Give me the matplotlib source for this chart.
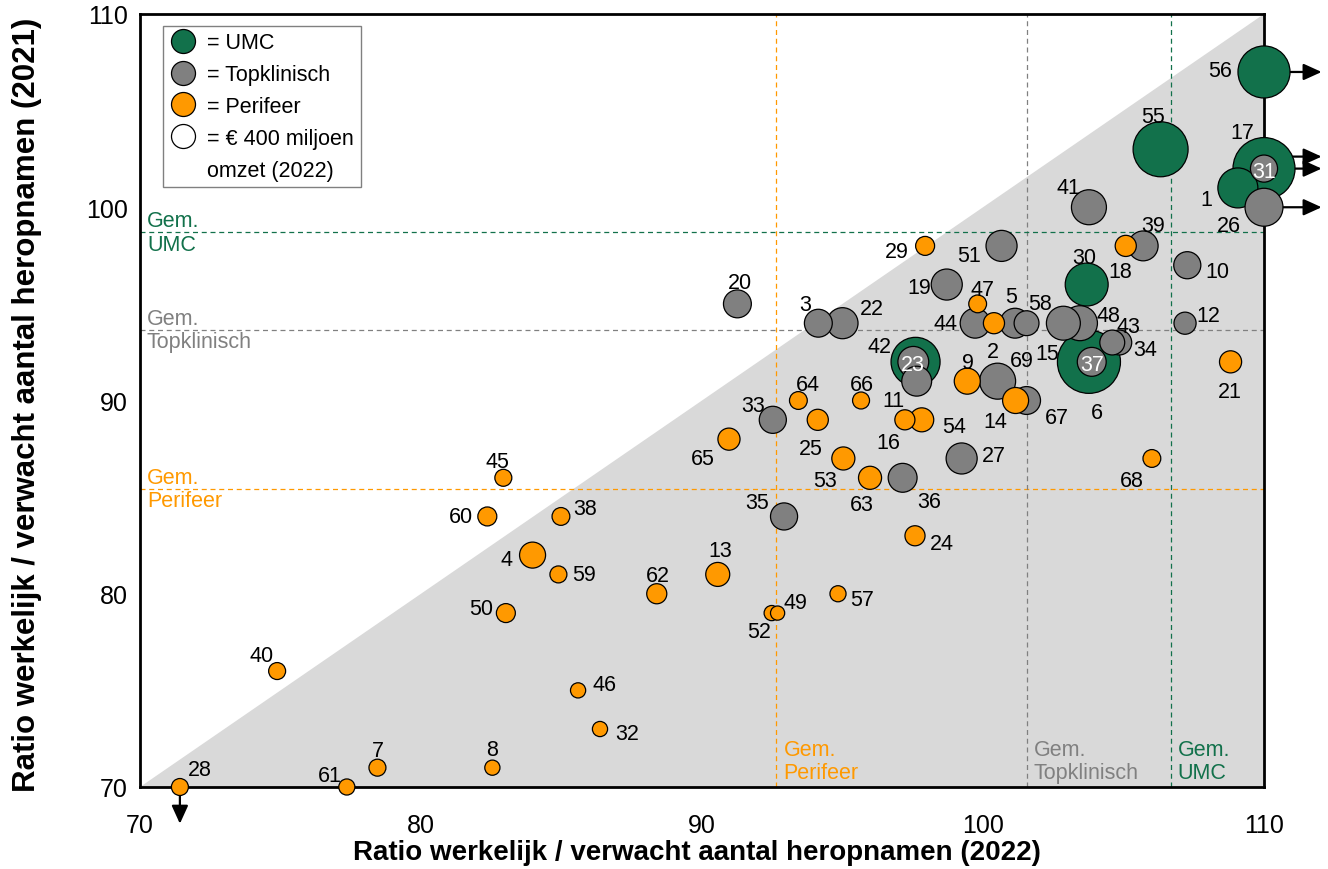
import matplotlib
matplotlib.use('Agg')
import matplotlib.pyplot as plt
from matplotlib.lines import Line2D
from matplotlib import transforms
import numpy as np

plt.rcParams['font.family'] = ['Liberation Sans', 'DejaVu Sans']

# ---------------- data ----------------
ids = list(range(1, 70))
x2022 = [109.07, 100.39, 94.14, 83.97, 101.14, 103.77, 78.45, 82.54, 99.44, 107.27,
         97.64, 107.19, 90.56, 101.16, 102.86, 97.22, 110.0, 105.08, 98.71, 91.26,
         108.81, 95.00, 97.52, 97.58, 94.12, 110.0, 99.24, 71.42, 97.94, 103.69,
         110.0, 86.37, 92.52, 104.85, 92.92, 97.14, 103.87, 84.98, 105.70, 74.88,
         103.77, 97.60, 104.60, 99.72, 82.93, 85.59, 99.81, 103.45, 92.69, 83.02,
         100.66, 92.48, 95.03, 97.82, 106.32, 110.0, 94.84, 101.55, 84.89, 82.36,
         77.36, 88.39, 95.98, 93.43, 90.96, 95.66, 101.55, 106.01, 100.52]
y2021 = [101, 94, 94, 82, 94, 92, 71, 71, 91, 97,
         91, 94, 81, 90, 94, 89, 102, 98, 96, 95,
         92, 94, 92, 83, 89, 100, 87, 70, 98, 96,
         102, 73, 89, 93, 84, 86, 92, 84, 98, 76,
         100, 92, 93, 94, 86, 75, 95, 94, 79, 79,
         98, 79, 87, 89, 103, 107, 80, 94, 81, 84,
         70, 80, 86, 90, 88, 90, 90, 87, 91]
umc = [1, 6, 17, 30, 42, 55, 56]
topklinisch = [3, 5, 10, 11, 12, 15, 19, 20, 22, 23, 26, 27, 31, 33, 34, 35, 36, 37,
               39, 41, 43, 44, 48, 51, 58, 67, 69]
# omzet 2022 in miljoen euro
omzet = [1110, 310, 540, 470, 620, 2760, 200, 160, 470, 510,
         620, 340, 400, 470, 800, 280, 2670, 310, 670, 540,
         340, 670, 660, 280, 310, 1000, 670, 200, 250, 1280,
         510, 160, 510, 430, 510, 580, 580, 220, 620, 200,
         850, 1670, 430, 620, 200, 160, 220, 850, 140, 250,
         670, 160, 370, 400, 2100, 1880, 180, 430, 200, 250,
         180, 280, 370, 220, 340, 200, 540, 220, 900]
over_right = [17, 26, 31, 56]   # ratio 2022 > 110
under_bottom = [28]             # ratio 2021 < 70
gem_x = {'Perifeer': 92.65, 'Topklinisch': 101.55, 'UMC': 106.68}
gem_y = {'Perifeer': 85.43, 'Topklinisch': 93.65, 'UMC': 98.70}
ref_omzet = 400

# ---------------- styles ----------------
C = {'UMC': '#12714B', 'Topklinisch': '#808080', 'Perifeer': '#FF9900'}
FILL = '#D9D9D9'
REF_D_PX = 24.0
PT = 0.72  # points per pixel at dpi 100

label_off = {1: (-32, -9), 2: (-1, -26), 3: (-13, 21), 4: (-26, -2), 5: (-4, 29),
             6: (8, -48), 7: (0, 20), 8: (0, 21), 9: (1, 21), 10: (30, -4),
             11: (-23, -17), 12: (23, 10), 13: (3, 26), 14: (-20, -19), 15: (-16, -28),
             16: (-17, -20), 17: (-22, 39), 18: (-5, -23), 19: (-28, 0), 20: (3, 24),
             21: (-1, -27), 22: (29, 17), 23: (0, 0), 24: (27, -5), 25: (-7, -26),
             26: (-35, -16), 27: (32, 5), 28: (20, 20), 29: (-28, -3), 30: (-2, 30),
             31: (0, 0), 32: (27, -2), 33: (-20, 17), 34: (26, -4), 35: (-27, 16),
             36: (27, -21), 37: (0, 0), 38: (24, 10), 39: (10, 23), 40: (-16, 18),
             41: (-20, 22), 42: (-36, 18), 43: (16, 19), 44: (-30, 2), 45: (-6, 19),
             46: (26, 8), 47: (5, 17), 48: (28, 10), 49: (18, 13), 50: (-25, 7),
             51: (-32, -7), 52: (-13, -16), 53: (-18, -20), 54: (32, -4), 55: (-8, 35),
             56: (-44, 4), 57: (24, -3), 58: (13, 22), 59: (26, 2), 60: (-26, 2),
             61: (-17, 14), 62: (1, 21), 63: (-8, -24), 64: (9, 18), 65: (-26, -17),
             66: (1, 18), 67: (30, -15), 68: (-20, -20), 69: (24, 23)}
white_labels = [23, 31, 37]
arrow_dy_px = {17: 12, 26: 0, 31: 0, 56: 0}

def kind(i):
    if i in umc:
        return 'UMC'
    if i in topklinisch:
        return 'Topklinisch'
    return 'Perifeer'

fig = plt.figure(figsize=(13.28, 8.70), dpi=100)
ax = fig.add_axes([140 / 1328, 1 - 788 / 870, 1124 / 1328, 773 / 870])
ax.set_xlim(70, 110)
ax.set_ylim(70, 110)

# shaded triangle below diagonal
ax.fill([70, 110, 110], [70, 110, 70], color=FILL, lw=0, zorder=0)

# averages
dash = (0, (4, 3))
for name in ['Perifeer', 'Topklinisch', 'UMC']:
    ax.axvline(gem_x[name], color=C[name], ls=dash, lw=0.9, zorder=1)
    ax.axhline(gem_y[name], color=C[name], ls=dash, lw=0.9, zorder=1)
    tr = transforms.blended_transform_factory(ax.transAxes, ax.transData)
    ax.text(0.0062, gem_y[name], 'Gem.\n' + name, transform=tr, ha='left',
            va='center', color=C[name], fontsize=15.5, linespacing=1.15, zorder=2)
    ax.annotate('Gem.\n' + name, xy=(gem_x[name], 70), xytext=(7, 4),
                textcoords='offset pixels', ha='left', va='bottom',
                color=C[name], fontsize=15.5, linespacing=1.15, zorder=2)

# points
n = len(ids)
order = sorted(range(n), key=lambda k: -omzet[k])
xs = np.array(x2022)[order]
ys = np.array(y2021)[order]
sizes = (REF_D_PX * PT) ** 2 * np.array(omzet, dtype=float)[order] / ref_omzet
cols = [C[kind(ids[k])] for k in order]
ax.scatter(xs, ys, s=sizes, c=cols, edgecolors='black', linewidths=0.9,
           zorder=3, clip_on=False)

# labels
for k in range(n):
    i = ids[k]
    dx, dy = label_off[i]
    ax.annotate(str(i), xy=(x2022[k], y2021[k]), xytext=(dx, dy),
                textcoords='offset pixels', ha='center', va='center_baseline',
                fontsize=15.5, color='white' if i in white_labels else 'black',
                zorder=6, annotation_clip=False)

# arrows for values out of range
aprops = dict(arrowstyle='-|>,head_length=1.1,head_width=0.5', color='black',
              lw=1.6, mutation_scale=10, shrinkA=0, shrinkB=0)
for i in over_right:
    k = ids.index(i)
    ya = y2021[k] + arrow_dy_px[i] / 19.325
    ax.annotate('', xy=(112.05, ya), xytext=(110, ya), arrowprops=aprops,
                annotation_clip=False, zorder=2)
for i in under_bottom:
    k = ids.index(i)
    ax.annotate('', xy=(x2022[k], 68.1), xytext=(x2022[k], 70), arrowprops=aprops,
                annotation_clip=False, zorder=2)

# axes styling
for sp in ax.spines.values():
    sp.set_linewidth(2.0)
    sp.set_color('black')
ticks = [70, 80, 90, 100, 110]
ax.set_xticks(ticks)
ax.set_yticks(ticks)
ax.set_xticks([80, 100], minor=True)
ax.set_yticks([80, 100], minor=True)
ax.tick_params(which='major', length=0, labelsize=18)
ax.tick_params(axis='x', which='major', pad=19)
ax.tick_params(axis='y', which='major', pad=9)
ax.tick_params(which='minor', direction='in', length=13, width=1.5, color='black')

ax.set_xlabel('Ratio werkelijk / verwacht aantal heropnamen (2022)', fontsize=20,
              fontweight='bold', va='center')
ax.xaxis.set_label_coords(0.4956, -0.0841)
ax.set_ylabel('Ratio werkelijk / verwacht aantal heropnamen (2021)', fontsize=22.5,
              fontweight='bold', va='center')
ax.yaxis.set_label_coords(-0.1005, 0.495)

# legend
ms = REF_D_PX * PT
handles = [Line2D([], [], ls='none', marker='o', ms=ms, mfc=C['UMC'], mec='black', mew=0.9),
           Line2D([], [], ls='none', marker='o', ms=ms, mfc=C['Topklinisch'], mec='black', mew=0.9),
           Line2D([], [], ls='none', marker='o', ms=ms, mfc=C['Perifeer'], mec='black', mew=0.9),
           Line2D([], [], ls='none', marker='o', ms=ms, mfc='white', mec='black', mew=0.9),
           Line2D([], [], ls='none')]
labels = ['= UMC', '= Topklinisch', '= Perifeer', '= € 400 miljoen', 'omzet (2022)']
leg = ax.legend(handles, labels, loc='upper left',
                bbox_to_anchor=(23 / 1124, (788 - 27) / 773), borderaxespad=0,
                fontsize=15.5, frameon=True, fancybox=False, edgecolor='#808080',
                framealpha=1, handlelength=1.28, handletextpad=0.48,
                labelspacing=0.5, borderpad=0.3)
leg.get_frame().set_linewidth(1.0)
leg.set_zorder(10)

fig.savefig('out.png', dpi=100)
